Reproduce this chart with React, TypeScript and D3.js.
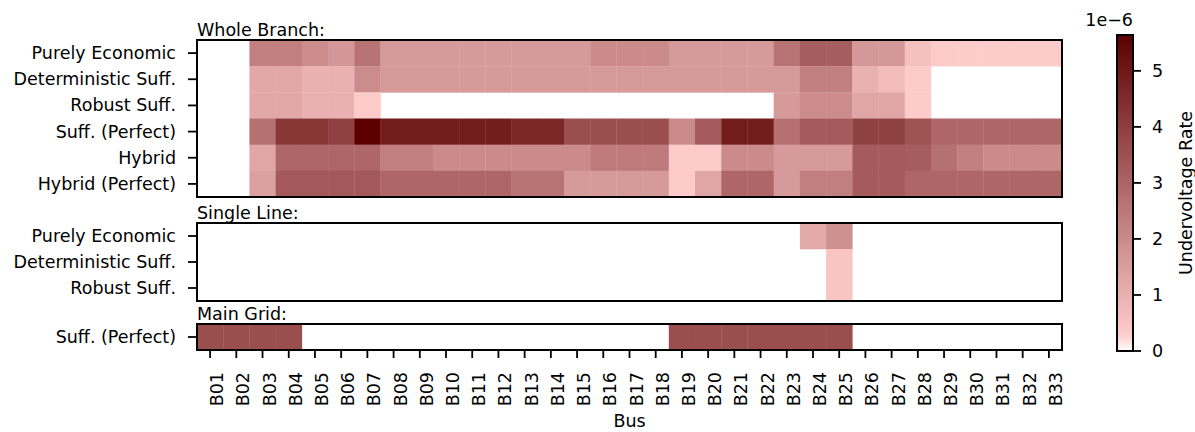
import React from "react";
import * as d3 from "d3";

const buses = [
  "B01","B02","B03","B04","B05","B06","B07","B08","B09","B10","B11",
  "B12","B13","B14","B15","B16","B17","B18","B19","B20","B21","B22",
  "B23","B24","B25","B26","B27","B28","B29","B30","B31","B32","B33",
];

// values in units of 1e-6 (0 = blank)
const wbPurelyEconomic = [0,0,2.3,2.3,1.95,1.7,2.6,1.6,1.6,1.6,1.6,1.6,1.6,1.6,1.6,2.0,2.0,2.0,1.6,1.6,1.6,1.6,2.6,3.2,3.2,1.65,1.65,0.6,0.3,0.3,0.3,0.3,0.3];
const wbDeterministic = [0,0,1.25,1.25,1.0,1.0,1.95,1.6,1.6,1.6,1.6,1.6,1.6,1.6,1.6,1.6,1.6,1.6,1.6,1.6,1.6,1.6,1.6,2.3,2.3,1.0,0.7,0.3,0,0,0,0,0];
const wbRobust = [0,0,1.25,1.25,1.0,1.0,0.3,0,0,0,0,0,0,0,0,0,0,0,0,0,0,0,1.6,1.95,1.95,1.3,1.3,0.3,0,0,0,0,0];
const wbSuffPerfect = [0,0,2.7,4.2,4.2,3.95,5.64,4.9,4.9,4.9,4.9,4.9,4.6,4.6,3.6,3.6,3.6,3.6,2.0,3.25,4.9,4.9,2.7,3.25,3.25,3.95,3.95,3.45,2.95,2.95,2.95,2.95,2.95];
const wbHybrid = [0,0,1.3,2.95,2.95,2.95,2.95,2.3,2.3,2.0,2.0,2.0,2.0,2.0,2.0,2.4,2.4,2.4,0.32,0.32,2.0,2.0,1.6,1.6,1.6,3.25,3.25,3.2,2.7,2.3,2.0,2.0,2.0];
const wbHybridPerfect = [0,0,1.45,3.3,3.3,3.3,3.3,2.95,2.95,2.95,2.95,2.95,2.6,2.6,1.6,1.6,1.6,1.6,0.32,1.3,2.95,2.95,1.6,2.3,2.3,3.25,3.25,2.95,2.95,2.95,2.95,2.95,2.95];

const slPurelyEconomic = [0,0,0,0,0,0,0,0,0,0,0,0,0,0,0,0,0,0,0,0,0,0,0,1.2,1.85,0,0,0,0,0,0,0,0];
const slDeterministic = [0,0,0,0,0,0,0,0,0,0,0,0,0,0,0,0,0,0,0,0,0,0,0,0,0.5,0,0,0,0,0,0,0,0];
const slRobust = [0,0,0,0,0,0,0,0,0,0,0,0,0,0,0,0,0,0,0,0,0,0,0,0,0.5,0,0,0,0,0,0,0,0];

const mgSuffPerfect = [3.6,3.6,3.6,3.6,0,0,0,0,0,0,0,0,0,0,0,0,0,0,3.6,3.6,3.6,3.6,3.6,3.6,3.6,0,0,0,0,0,0,0,0];

const wholeBranchRows = ["Purely Economic","Deterministic Suff.","Robust Suff.","Suff. (Perfect)","Hybrid","Hybrid (Perfect)"];
const wholeBranchData = [wbPurelyEconomic, wbDeterministic, wbRobust, wbSuffPerfect, wbHybrid, wbHybridPerfect];
const singleLineRows = ["Purely Economic","Deterministic Suff.","Robust Suff."];
const singleLineData = [slPurelyEconomic, slDeterministic, slRobust];
const mainGridRows = ["Suff. (Perfect)"];
const mainGridData = [mgSuffPerfect];

const colorTicks = [0, 1, 2, 3, 4, 5];
const vmax = 5.64;

const FONT = "DejaVu Sans, sans-serif";
const FS = 17.5;

const W = 1195, H = 432;
const left = 197, right = 1062;

const panels = [
  { title: "Whole Branch:", rows: wholeBranchRows, data: wholeBranchData, top: 40, bottom: 197 },
  { title: "Single Line:", rows: singleLineRows, data: singleLineData, top: 223, bottom: 301 },
  { title: "Main Grid:", rows: mainGridRows, data: mainGridData, top: 324, bottom: 350 },
];

const color = d3
  .scaleLinear<string>()
  .domain([0, 0.05 * vmax, vmax])
  .range(["#ffffff", "#ffcccc", "#5c0000"])
  .interpolate(d3.interpolateRgb)
  .clamp(true);

export default function App() {
  const x = d3.scaleBand<string>().domain(buses).range([left, right]).padding(0);
  const cbX0 = 1117, cbX1 = 1133, cbTop = 35, cbBot = 351;
  const cy = d3.scaleLinear().domain([0, vmax]).range([cbBot, cbTop]);
  const gradStops = d3.range(0, 1.0001, 0.02);
  const lastBottom = panels[panels.length - 1].bottom;

  return (
    <svg
      width={W}
      height={H}
      style={{ position: "absolute", left: 0, top: 0, background: "#fff" }}
      fontFamily={FONT}
    >
      <defs>
        <linearGradient id="cbgrad" x1="0" y1="1" x2="0" y2="0">
          {gradStops.map((t) => (
            <stop key={t} offset={t} stopColor={color(t * vmax)} />
          ))}
        </linearGradient>
      </defs>
      {panels.map((p) => {
        const y = d3.scaleBand<string>().domain(p.rows).range([p.top, p.bottom]).padding(0);
        return (
          <g key={p.title}>
            {p.data.map((row, ri) =>
              row.map((v, ci) =>
                v > 0 ? (
                  <rect
                    key={`${ri}-${ci}`}
                    x={x(buses[ci])!}
                    y={y(p.rows[ri])!}
                    width={x.bandwidth() + 0.3}
                    height={y.bandwidth() + 0.3}
                    fill={color(v)}
                  />
                ) : null
              )
            )}
            <rect
              x={left}
              y={p.top}
              width={right - left}
              height={p.bottom - p.top}
              fill="none"
              stroke="#000"
              strokeWidth={2}
            />
            {p.rows.map((r) => {
              const yc = y(r)! + y.bandwidth() / 2;
              return (
                <g key={r}>
                  <line x1={left - 9} x2={left} y1={yc} y2={yc} stroke="#000" strokeWidth={1.8} />
                  <text x={176} y={yc} textAnchor="end" dominantBaseline="central" fontSize={FS} fill="#000">
                    {r}
                  </text>
                </g>
              );
            })}
            <text x={left} y={p.top - 4} fontSize={FS} fill="#000">
              {p.title}
            </text>
          </g>
        );
      })}
      {buses.map((b) => {
        const xc = x(b)! + x.bandwidth() / 2;
        return (
          <g key={b}>
            <line x1={xc} x2={xc} y1={lastBottom} y2={lastBottom + 8} stroke="#000" strokeWidth={1.8} />
            <text
              transform={`translate(${xc + 13},${372}) rotate(-90)`}
              textAnchor="end"
              fontSize={FS}
              fill="#000"
            >
              {b}
            </text>
          </g>
        );
      })}
      <text x={(left + right) / 2} y={427} textAnchor="middle" fontSize={FS} fill="#000">
        Bus
      </text>
      <rect x={cbX0} y={cbTop} width={cbX1 - cbX0} height={cbBot - cbTop} fill="url(#cbgrad)" stroke="#000" strokeWidth={2} />
      {colorTicks.map((t) => (
        <g key={t}>
          <line x1={cbX1} x2={cbX1 + 8} y1={cy(t)} y2={cy(t)} stroke="#000" strokeWidth={1.8} />
          <text x={cbX1 + 19} y={cy(t)} dominantBaseline="central" fontSize={FS} fill="#000">
            {t}
          </text>
        </g>
      ))}
      <text x={cbX1} y={26} textAnchor="end" fontSize={FS} fill="#000">
        1e−6
      </text>
      <text
        transform={`translate(${1192},${(cbTop + cbBot) / 2}) rotate(-90)`}
        textAnchor="middle"
        fontSize={FS}
        fill="#000"
      >
        Undervoltage Rate
      </text>
    </svg>
  );
}
